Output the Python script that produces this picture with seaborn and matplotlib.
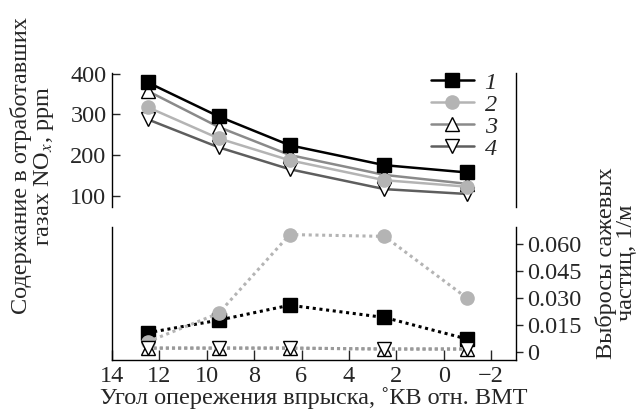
import matplotlib
matplotlib.use("Agg")
import matplotlib.pyplot as plt
import seaborn as sns
import pandas as pd

# ---- data ----
angle = [12.5, 9.5, 6.5, 2.5, -1.0]
nox_1 = [379, 295, 224, 175, 157]
nox_2 = [318, 241, 187, 138, 122]
nox_3 = [358, 269, 200, 151, 129]
nox_4 = [288, 219, 165, 116, 104]
soot_1 = [0.0105, 0.0175, 0.0258, 0.0190, 0.0070]
soot_2 = [0.0055, 0.0213, 0.0650, 0.0640, 0.0296]
soot_3 = [0.0020, 0.0020, 0.0020, 0.0015, 0.0015]
soot_4 = [0.0020, 0.0020, 0.0020, 0.0015, 0.0015]
series_labels = ["1", "2", "3", "4"]
x_ticks = [14, 12, 10, 8, 6, 4, 2, 0, -2]
x_ticklabels = ["14", "12", "10", "8", "6", "4", "2", "0", "\u22122"]
nox_ticks = [100, 200, 300, 400]
soot_ticks = [0, 0.015, 0.030, 0.045, 0.060]
soot_ticklabels = ["0", "0.015", "0.030", "0.045", "0.060"]

sns.set_theme(style="white")
plt.rcParams["font.family"] = ["Liberation Serif", "DejaVu Serif"]
plt.rcParams["mathtext.fontset"] = "stix"
FS = 17.5

fig = plt.figure(figsize=(6.4, 4.18), dpi=100)
W, H = 640, 418
def rect(l, t, r, b):
    return [l / W, 1 - b / H, (r - l) / W, (b - t) / H]

ax_top = fig.add_axes(rect(112, 73, 516, 207))
ax_bot = fig.add_axes(rect(112, 227, 516, 360))

colors = ["#000000", "#b4b4b4", "#8a8a8a", "#5e5e5e"]
markers = ["s", "o", "^", "v"]
mfc = ["#000000", "#b4b4b4", "white", "white"]
mec = ["#000000", "#b4b4b4", "#000000", "#000000"]
nox = [nox_1, nox_2, nox_3, nox_4]
soot = [soot_1, soot_2, soot_3, soot_4]

for i in range(4):
    df = pd.DataFrame({"x": angle, "y": nox[i]})
    sns.lineplot(data=df, x="x", y="y", ax=ax_top, sort=False, color=colors[i],
                 lw=1.8, marker=markers[i], markersize=10 if i == 0 else 9.5,
                 markerfacecolor=mfc[i], markeredgecolor=mec[i], markeredgewidth=1.0,
                 label=series_labels[i], zorder=3 + (4 - i))

dot_colors = ["#000000", "#b4b4b4", "#9a9a9a", "#9a9a9a"]
dash = [(0, (1, 1.2)), (0, (1, 1.2)), (0, (1, 1.0)), (0, (1, 1.0))]
for i in [2, 3, 1, 0]:
    df = pd.DataFrame({"x": angle, "y": soot[i]})
    sns.lineplot(data=df, x="x", y="y", ax=ax_bot, sort=False, color=dot_colors[i],
                 lw=2.2, linestyle=dash[i], marker=markers[i],
                 markersize=10 if i == 0 else 9.5,
                 markerfacecolor=mfc[i], markeredgecolor=mec[i], markeredgewidth=1.0,
                 zorder=3 + i)

# upper axes
ax_top.set_xlim(14, -3.05)
ax_top.set_ylim(72, 402)
ax_top.set_xticks([])
ax_top.set_yticks(nox_ticks)
ax_top.set_yticklabels([str(t) for t in nox_ticks])
ax_top.tick_params(axis="y", direction="in", length=6, width=1, pad=4, labelsize=FS,
                   left=True, right=False)
for s in ["top", "bottom"]:
    ax_top.spines[s].set_visible(False)
for s in ["left", "right"]:
    ax_top.spines[s].set_color("black")
    ax_top.spines[s].set_linewidth(1.0)
ax_top.set_xlabel("")
ax_top.set_ylabel("")
ax_top.patch.set_alpha(0)

leg = ax_top.legend(loc="upper left", bbox_to_anchor=(0.79, 1.01), frameon=False,
                    handlelength=1.75, handletextpad=0.45, labelspacing=0.0,
                    borderpad=0, borderaxespad=0, prop={"size": FS, "style": "italic"})

# lower axes
ax_bot.set_xlim(14, -3.05)
ax_bot.set_ylim(-0.0046, 0.0692)
ax_bot.set_xticks(x_ticks)
ax_bot.set_xticklabels(x_ticklabels)
ax_bot.yaxis.tick_right()
ax_bot.set_yticks(soot_ticks)
ax_bot.set_yticklabels(soot_ticklabels)
ax_bot.tick_params(axis="x", direction="in", length=7, width=1, pad=4, labelsize=FS,
                   bottom=True)
ax_bot.tick_params(axis="y", direction="out", length=5, width=1, pad=3, labelsize=FS,
                   right=True, left=False)
ax_bot.spines["top"].set_visible(False)
for s in ["left", "right", "bottom"]:
    ax_bot.spines[s].set_color("black")
    ax_bot.spines[s].set_linewidth(1.0)
ax_bot.set_ylabel("")
ax_bot.set_xlabel("Угол опережения впрыска, \u02daКВ отн. ВМТ", fontsize=FS, labelpad=0)
ax_bot.patch.set_alpha(0)

fig.text(33 / W, 1 - 166 / H, "Содержание в отработавших\nгазах NO$_x$, ppm",
         rotation=90, ha="center", va="center", multialignment="center",
         fontsize=FS, linespacing=0.95)
fig.text(616 / W, 1 - 263 / H, "Выбросы сажевых\nчастиц, 1/м",
         rotation=90, ha="center", va="center", multialignment="center",
         fontsize=FS, linespacing=0.95)

fig.savefig("out.png", dpi=100)
